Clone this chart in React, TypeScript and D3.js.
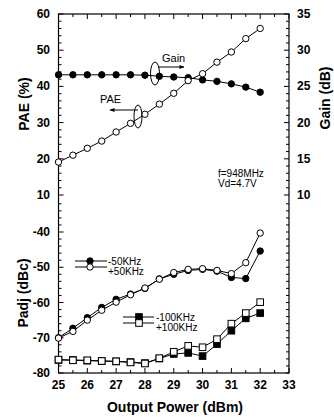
import React from 'react';
import * as d3 from 'd3';

const outputPower = [25, 25.5, 26, 26.5, 27, 27.5, 28, 28.5, 29, 29.5, 30, 30.5, 31, 31.5, 32];
const pae = [19.1, 21.0, 22.9, 24.9, 27.4, 29.8, 32.3, 35.1, 38.1, 41.6, 43.5, 46.7, 49.5, 53.2, 56.0];
const gain = [26.6, 26.6, 26.6, 26.6, 26.6, 26.6, 26.55, 26.4, 26.3, 26.2, 25.9, 25.7, 25.35, 24.9, 24.2];
const adjMinus50 = [-70.0, -67.3, -64.3, -61.4, -59.1, -57.6, -56.0, -53.3, -52.0, -50.9, -50.6, -51.1, -52.9, -53.2, -45.4];
const adjPlus50 = [-70.1, -68.2, -65.0, -62.2, -59.9, -57.8, -55.9, -53.4, -51.5, -50.6, -50.4, -50.9, -51.8, -48.7, -40.3];
const adjMinus100 = [-76.3, -76.3, -76.5, -76.6, -76.7, -76.9, -77.2, -75.9, -74.6, -74.3, -75.2, -71.8, -68.0, -64.5, -63.0];
const adjPlus100 = [-76.2, -76.4, -76.4, -76.6, -76.7, -77.0, -77.3, -75.8, -74.0, -72.3, -72.7, -70.4, -66.0, -63.0, -59.9];

const xTicks = [25, 26, 27, 28, 29, 30, 31, 32, 33];
const paeTicks = [10, 20, 30, 40, 50, 60];
const gainTicks = [10, 15, 20, 25, 30, 35];
const adjTicks = [-80, -70, -60, -50, -40];

const FONT = '"Liberation Sans", Arial, Helvetica, sans-serif';

export default function App() {
  const W = 334, H = 417;
  const L = 58.5, R = 289, T = 14, B = 373;
  const x = d3.scaleLinear().domain([25, 33]).range([L, R]);
  const yPae = d3.scaleLinear().domain([10, 60]).range([195, T]);
  const yGain = d3.scaleLinear().domain([10, 35]).range([195, T]);
  const yAdj = d3.scaleLinear().domain([-80, -40]).range([B, 232]);

  const mk = (ys: number[], sc: d3.ScaleLinear<number, number>) =>
    d3.line<number>().x((_, i) => x(outputPower[i])).y((v) => sc(v))(ys) || '';

  const xMinor = d3.range(25, 33.01, 0.5);
  const leftMinorTop = d3.range(10, 60.01, 2);
  const leftMinorBot = d3.range(-80, -31, 2);
  const rightMinorTop = d3.range(10, 35.01, 1);

  const circles = (ys: number[], sc: any, filled: boolean) =>
    ys.map((v, i) => (
      <circle key={i} cx={x(outputPower[i])} cy={sc(v)} r={3.2}
        fill={filled ? '#000' : '#fff'} stroke="#000" strokeWidth={1} />
    ));
  const squares = (ys: number[], sc: any, filled: boolean) =>
    ys.map((v, i) => (
      <rect key={i} x={x(outputPower[i]) - 3.3} y={sc(v) - 3.3} width={6.6} height={6.6}
        fill={filled ? '#000' : '#fff'} stroke="#000" strokeWidth={1} />
    ));

  return (
    <svg width={W} height={H} style={{ position: 'absolute', left: 0, top: 0, background: '#fff' }}
      fontFamily={FONT}>
      <defs>
        <marker id="arr" viewBox="0 0 10 10" refX="9" refY="5" markerWidth="7" markerHeight="5" orient="auto-start-reverse">
          <path d="M0,1 L10,5 L0,9 z" fill="#000" />
        </marker>
      </defs>
      <rect x={0} y={0} width={W} height={H} fill="#fff" />
      {/* frame */}
      <rect x={L} y={T} width={R - L} height={B - T} fill="none" stroke="#000" strokeWidth={1.2} />

      {/* x ticks */}
      {xMinor.map((v, i) => {
        const major = Math.abs(v - Math.round(v)) < 1e-6;
        const len = major ? 5 : 3;
        return (
          <g key={i}>
            <line x1={x(v)} x2={x(v)} y1={B} y2={B - len} stroke="#000" />
            <line x1={x(v)} x2={x(v)} y1={T} y2={T + len} stroke="#000" />
          </g>
        );
      })}
      {xTicks.map((v) => (
        <text key={v} x={x(v)} y={389} fontSize={12} fontWeight="bold" textAnchor="middle">{v}</text>
      ))}

      {/* left ticks */}
      {leftMinorTop.map((v) => (
        <line key={'lt' + v} x1={L} x2={L + (v % 10 === 0 ? 5 : 3)} y1={yPae(v)} y2={yPae(v)} stroke="#000" />
      ))}
      {leftMinorBot.map((v) => (
        <line key={'lb' + v} x1={L} x2={L + (v % 10 === 0 ? 5 : 3)} y1={yAdj(v)} y2={yAdj(v)} stroke="#000" />
      ))}
      {paeTicks.map((v) => (
        <text key={'pl' + v} x={50} y={yPae(v) + 4} fontSize={12} fontWeight="bold" textAnchor="end">{v}</text>
      ))}
      {adjTicks.map((v) => (
        <text key={'al' + v} x={50} y={yAdj(v) + 4} fontSize={12} fontWeight="bold" textAnchor="end">{v}</text>
      ))}

      {/* right ticks */}
      {rightMinorTop.map((v) => (
        <line key={'rt' + v} x1={R} x2={R - (v % 5 === 0 ? 5 : 3)} y1={yGain(v)} y2={yGain(v)} stroke="#000" />
      ))}
      {leftMinorBot.map((v) => (
        <line key={'rb' + v} x1={R} x2={R - 3} y1={yAdj(v)} y2={yAdj(v)} stroke="#000" />
      ))}
      {gainTicks.map((v) => (
        <text key={'gl' + v} x={297} y={yGain(v) + 4} fontSize={12} fontWeight="bold" textAnchor="start">{v}</text>
      ))}

      {/* axis titles */}
      <text transform="translate(29,104) rotate(-90)" fontSize={14} fontWeight="bold" textAnchor="middle">PAE (%)</text>
      <text transform="translate(28,293) rotate(-90)" fontSize={14} fontWeight="bold" textAnchor="middle">Padj (dBc)</text>
      <text transform="translate(330,98) rotate(-90)" fontSize={14} fontWeight="bold" textAnchor="middle">Gain (dB)</text>
      <text x={175} y={412} fontSize={14} fontWeight="bold" textAnchor="middle">Output Power (dBm)</text>

      {/* series lines */}
      <path d={mk(pae, yPae)} fill="none" stroke="#000" strokeWidth={1} />
      <path d={mk(gain, yGain)} fill="none" stroke="#000" strokeWidth={1} />
      <path d={mk(adjMinus50, yAdj)} fill="none" stroke="#000" strokeWidth={1} />
      <path d={mk(adjPlus50, yAdj)} fill="none" stroke="#000" strokeWidth={1} />
      <path d={mk(adjMinus100, yAdj)} fill="none" stroke="#000" strokeWidth={1} />
      <path d={mk(adjPlus100, yAdj)} fill="none" stroke="#000" strokeWidth={1} />

      {/* markers */}
      {circles(gain, yGain, true)}
      {circles(pae, yPae, false)}
      {circles(adjMinus50, yAdj, true)}
      {circles(adjPlus50, yAdj, false)}
      {squares(adjMinus100, yAdj, true)}
      {squares(adjPlus100, yAdj, false)}

      {/* annotations */}
      <ellipse cx={155} cy={73.5} rx={4.5} ry={11.5} fill="none" stroke="#000" strokeWidth={1} />
      <line x1={158} y1={67} x2={184} y2={67} stroke="#000" strokeWidth={1} markerEnd="url(#arr)" />
      <text x={162} y={62} fontSize={11}>Gain</text>
      <ellipse cx={138} cy={116.5} rx={4} ry={11.5} fill="none" stroke="#000" strokeWidth={1} />
      <line x1={138} y1={110} x2={110} y2={110} stroke="#000" strokeWidth={1} markerEnd="url(#arr)" />
      <text x={100} y={103} fontSize={11}>PAE</text>
      <text x={218} y={177} fontSize={10}>f=948MHz</text>
      <text x={218} y={187} fontSize={10}>Vd=4.7V</text>

      {/* legends */}
      <line x1={75} x2={107} y1={261} y2={261} stroke="#000" />
      <circle cx={90} cy={261} r={3.2} fill="#000" stroke="#000" />
      <line x1={75} x2={107} y1={267} y2={267} stroke="#000" />
      <circle cx={90} cy={267} r={3.2} fill="#fff" stroke="#000" />
      <text x={108} y={265} fontSize={10}>-50KHz</text>
      <text x={108} y={275} fontSize={10}>+50KHz</text>

      <line x1={123} x2={154} y1={317} y2={317} stroke="#000" />
      <rect x={135.7} y={313.7} width={6.6} height={6.6} fill="#000" stroke="#000" />
      <line x1={123} x2={154} y1={323} y2={323} stroke="#000" />
      <rect x={135.7} y={319.7} width={6.6} height={6.6} fill="#fff" stroke="#000" />
      <text x={156} y={321} fontSize={10}>-100KHz</text>
      <text x={156} y={331} fontSize={10}>+100KHz</text>
    </svg>
  );
}
